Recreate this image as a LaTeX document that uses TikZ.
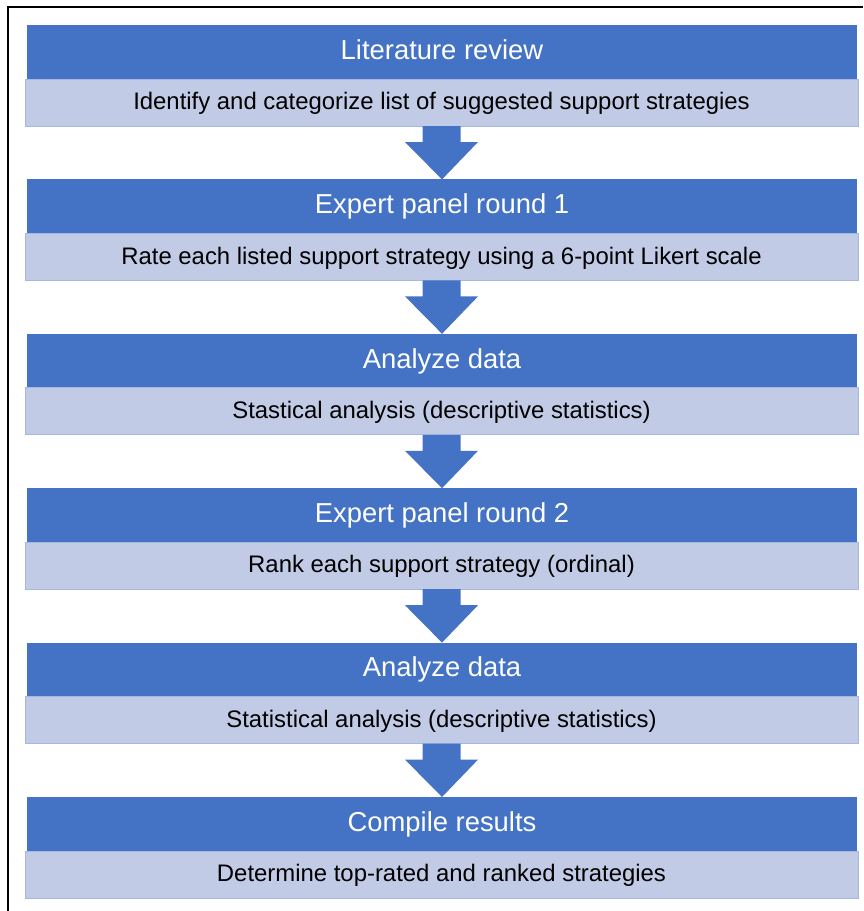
\documentclass[tikz,border=0pt]{standalone}
\usepackage{fontspec}
\setmainfont{Liberation Sans}
\usetikzlibrary{calc}
\definecolor{hdblue}{HTML}{4472C4}
\definecolor{sublight}{HTML}{C2CBE6}
\definecolor{subedge}{HTML}{A6B8E2}
\tikzset{
  x=1pt, y=-1pt,
  titlebox/.style={rectangle, fill=hdblue, draw=none, text=white, inner sep=0pt, outer sep=0pt,
    minimum width=830pt, minimum height=54pt, text height=20pt, text depth=5.4pt,
    font=\fontsize{27.4}{32}\selectfont},
  subbox/.style={rectangle, fill=sublight, draw=subedge, line width=0.8pt, text=black, inner sep=0pt, outer sep=0pt,
    minimum width=833pt, minimum height=47pt, text height=17pt, text depth=2.6pt,
    font=\fontsize{23.9}{28}\selectfont},
  blockarrow/.style={fill=hdblue, draw=none},
  frameline/.style={draw=black, line width=1.5pt}
}
\begin{document}
\begin{tikzpicture}
\useasboundingbox (0,0) rectangle (863,911);
\fill[white] (0,0) rectangle (863,911);
\coordinate (fa) at (8,911);
\coordinate (fb) at (8,7);
\coordinate (fc) at (863,7);
\draw[frameline] (fa) -- (fb) -- (fc);

\foreach \i/\ttl/\sub in {
 1/{Literature review}/{Identify and categorize list of suggested support strategies},
 2/{Expert panel round 1}/{Rate each listed support strategy using a 6-point Likert scale},
 3/{Analyze data}/{Stastical analysis (descriptive statistics)},
 4/{Expert panel round 2}/{Rank each support strategy (ordinal)},
 5/{Analyze data}/{Statistical analysis (descriptive statistics)},
 6/{Compile results}/{Determine top-rated and ranked strategies}}{
  \pgfmathsetmacro{\top}{25+154.4*(\i-1)}
  \node[titlebox] (t\i) at (442,\top+27) {\ttl};
  \node[subbox] (s\i) at (441.5,\top+77.5) {\sub};
}

\foreach \i [evaluate=\i as \j using int(\i+1)] in {1,...,5}{
  \fill[blockarrow] ($(s\i.south)+(-19,0)$) -- ($(s\i.south)+(19,0)$) -- ($(s\i.south)+(19,16)$)
    -- ($(s\i.south)+(36.5,16)$) -- (t\j.north) -- ($(s\i.south)+(-36.5,16)$)
    -- ($(s\i.south)+(-19,16)$) -- cycle;
}
\end{tikzpicture}
\end{document}
